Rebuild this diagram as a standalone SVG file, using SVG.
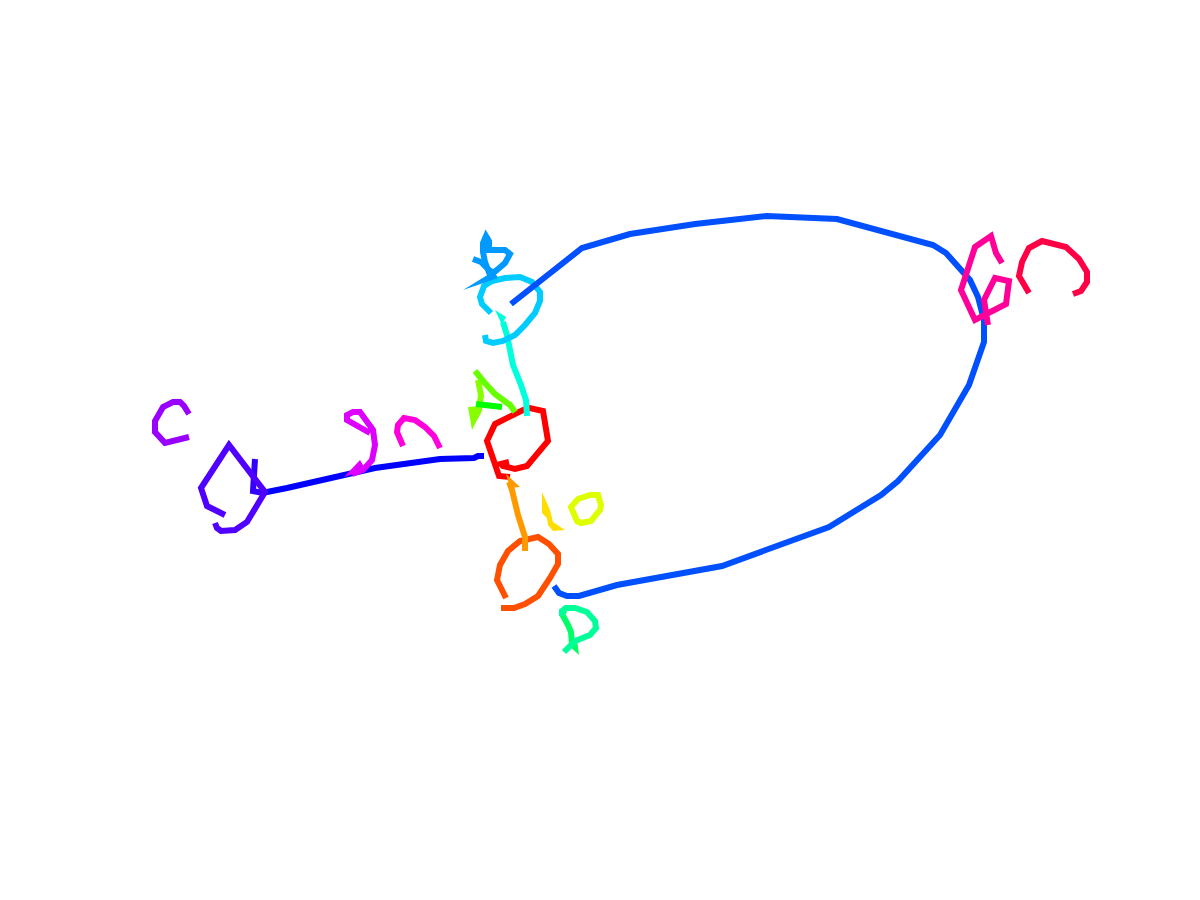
<svg xmlns="http://www.w3.org/2000/svg" width="1200" height="900" viewBox="0 0 1200 900">
<style>
polyline{fill:none;stroke-width:6;stroke-linejoin:miter;stroke-miterlimit:10;stroke-linecap:butt}
</style>
<rect width="1200" height="900" fill="#ffffff"/>
<g id="strokes">
<polyline stroke="#ff0000" points="510,477 499,476 487,441 495,424 523,410 530,408 543,411 548,441 527,466 515,469 503,466 501,464 509,462"/>
<polyline stroke="#ff5000" points="506,598 497,580 500,565 508,551 520,541 538,537 549,544 558,554 558,564 550,578 538,596 525,604 514,608 501,608"/>
<polyline stroke="#ff9900" points="525,551 525,537 518,515 512,490 509,482"/>
<polygon fill="#ff9900" points="506,474 520,487 510,488"/>
<polygon fill="#ffdd00" points="542,492 550,510 553,522 565,530 553,531 548,525 547,518 542,513"/>
<polygon fill="none" stroke="#ddff00" stroke-width="6" points="571,507 578,499 590,495 598,495 601,505 600,510 591,521 581,523 577,521"/>
<polyline stroke="#88ff00" points="478,380 481,395 479,410 475,418"/>
<polygon fill="#88ff00" points="468,407 481,406 481,412 472,430"/>
<polyline stroke="#66ff00" points="475,371 484,382 495,394 510,405 515,412"/>
<polyline stroke="#00ff00" points="476,404 502,407"/>
<polyline stroke="#00ff66" points="562,614 568,625 571,632 572,645"/>
<polygon fill="#00ff66" points="562,606 567,612 563,618"/>
<polygon fill="#00ff66" points="568,645 579,655 577,640"/>
<polyline stroke="#00ff99" points="562,616 562,611 566,608 575,608 587,612 595,621 596,628 590,635 575,641 564,652"/>
<polyline stroke="#00ffdd" points="527,416 526,400 521,385 513,365 510,350 507,335 503,322"/>
<polygon fill="#00ffdd" points="495,310 506,317 502,325"/>
<polyline stroke="#00ccff" points="491,313 482,304 480,297 484,286 492,281 505,278 520,277 532,282 540,292 540,301 535,313 525,325 515,335 503,341 493,343 486,341 485,335"/>
<polyline stroke="#0099ff" points="490,275 485,262 483,252 483,243 486,236 489,241 489,250 505,250 510,254 505,263 497,270 493,273"/>
<polyline stroke="#0099ff" points="473,259 481,262 489,270 496,274"/>
<polygon fill="#0099ff" points="463,290 494,271 498,278"/>
<polyline stroke="#0050ff" points="511,304 582,248 630,234 695,224 767,216 837,219 933,245 946,253 970,280 978,297 984,320 984,342 969,385 940,435 898,481 881,495 829,527 722,566 617,585 579,596 567,596 559,593 554,586"/>
<polyline stroke="#0000ff" points="262,493 287,488 375,468 440,459 474,458 478,456 484,456"/>
<polyline stroke="#3300ff" points="255,459 253,491 263,493"/>
<polyline stroke="#5000ff" points="225,515 207,506 201,488 229,445 265,492 247,522 235,530 221,531 217,528 215,523"/>
<polyline stroke="#9900ff" points="189,414 184,406 180,402 173,402 163,407 155,421 155,432 165,443 189,437"/>
<polyline stroke="#dd00ff" points="370,433 347,420 347,415 353,412 360,412 373,430 375,445 372,460 363,470 352,474"/>
<polygon fill="#dd00ff" points="344,477 360,460 366,470"/>
<polyline stroke="#ff00dd" points="403,446 397,432 398,425 404,418 415,420 425,427 434,436 440,448"/>
<polyline stroke="#ff0099" points="1002,263 996,253 991,236 975,247 961,290 975,320 1006,304 1009,281 995,278 984,300 988,325"/>
<polyline stroke="#ff0044" points="1029,293 1019,276 1022,262 1029,248 1042,241 1066,247 1079,259 1087,272 1087,282 1081,291 1073,294"/>
</g>
</svg>
